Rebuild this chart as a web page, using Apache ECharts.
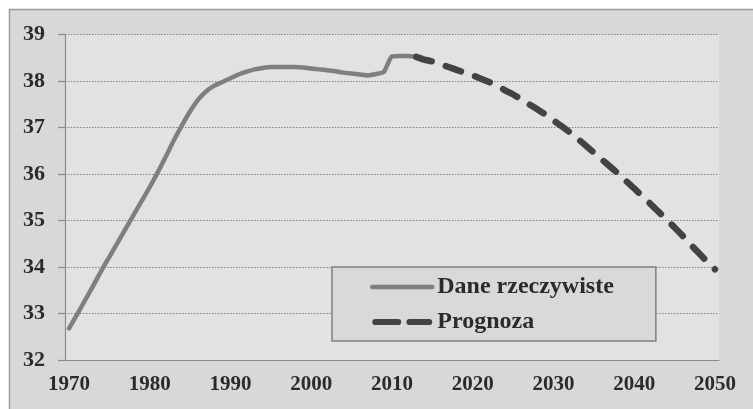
<!DOCTYPE html>
<html lang="pl">
<head>
<meta charset="UTF-8">
<title>Mediana wieku</title>
<script src="https://cdn.jsdelivr.net/npm/echarts@6/dist/echarts.min.js"></script>
<style>
  html, body { margin: 0; padding: 0; background: #fff; }
  #chart { width: 753px; height: 409px; }
</style>
</head>
<body>
<div id="chart"></div>
<script>
// lata 1970-2050 (kategorie osi X)
var years = [];
for (var y = 1970; y <= 2050; y++) years.push(String(y));

// dane rzeczywiste 1970-2013
var actualValues = [
  32.68, 32.98, 33.29, 33.60, 33.92, 34.22, 34.52, 34.82, 35.12, 35.42,
  35.72, 36.04, 36.38, 36.73, 37.05, 37.35, 37.60, 37.78, 37.90, 37.98,
  38.06, 38.14, 38.20, 38.25, 38.28, 38.30, 38.30, 38.30, 38.30, 38.29,
  38.27, 38.25, 38.23, 38.21, 38.18, 38.16, 38.14, 38.12, 38.15, 38.20,
  38.53, 38.54, 38.54, 38.52
];

// prognoza 2013-2050
var forecastValues = [
  38.52, 38.46, 38.42, 38.36, 38.30, 38.24, 38.18, 38.12, 38.05, 37.98,
  37.90, 37.80, 37.71, 37.61, 37.50, 37.39, 37.28, 37.15, 37.03, 36.90,
  36.76, 36.61, 36.46, 36.31, 36.16, 36.01, 35.85, 35.69, 35.52, 35.36,
  35.19, 35.02, 34.85, 34.67, 34.48, 34.30, 34.12, 33.95
];

var seriesNames = ['Dane rzeczywiste', 'Prognoza'];

var actualData = actualValues.concat(new Array(years.length - actualValues.length).fill(null));
var forecastData = new Array(years.length - forecastValues.length).fill(null).concat(forecastValues);

// ikona legendy dla prognozy: dwie kreski z zaokrąglonymi końcami
var dashIcon = 'path://M3,0H25A3,3 0 0 1 25,6H3A3,3 0 0 1 3,0Z M36,0H55A3,3 0 0 1 55,6H36A3,3 0 0 1 36,0Z';

var font = 'Liberation Serif, Times New Roman, serif';
var chart = echarts.init(document.getElementById('chart'), null, {renderer: 'canvas'});

chart.setOption({
  animation: false,
  backgroundColor: '#d7d8d7',
  graphic: [
    {type: 'rect', shape: {x: 0, y: 0, width: 753, height: 9}, style: {fill: '#fff'}, silent: true},
    {type: 'rect', shape: {x: 0, y: 0, width: 9, height: 409}, style: {fill: '#fff'}, silent: true},
    {type: 'line', shape: {x1: 9, y1: 9.5, x2: 753, y2: 9.5}, style: {stroke: '#9a9a9a', lineWidth: 1.5}, silent: true},
    {type: 'line', shape: {x1: 9.5, y1: 9, x2: 9.5, y2: 409}, style: {stroke: '#9a9a9a', lineWidth: 1.5}, silent: true}
  ],
  grid: {
    left: 65, right: 34, top: 34.5, bottom: 49,
    show: true, backgroundColor: '#e2e2e2', borderWidth: 0
  },
  legend: {
    orient: 'vertical',
    left: 332, top: 267,
    padding: [8, 42, 7, 38],
    itemGap: 11,
    itemWidth: 60,
    itemHeight: 6.5,
    backgroundColor: '#d9d9d9',
    borderColor: '#808080',
    borderWidth: 1.5,
    borderRadius: 0,
    textStyle: {fontFamily: font, fontWeight: 'bold', fontSize: 24, color: '#2b2b2b', lineHeight: 24},
    data: [
      {name: seriesNames[0], itemStyle: {opacity: 0}, lineStyle: {color: '#7f7f7f', width: 4.5, cap: 'round'}},
      {name: seriesNames[1], icon: dashIcon, itemStyle: {color: '#434343'}}
    ]
  },
  xAxis: {
    type: 'category',
    data: years,
    boundaryGap: true,
    axisLine: {lineStyle: {color: '#8a8a8a', width: 1.2}},
    axisTick: {interval: 4, length: 5, lineStyle: {color: '#8a8a8a', width: 1.2}},
    axisLabel: {interval: 9, margin: 14, fontFamily: font, fontWeight: 'bold', fontSize: 21, color: '#2b2b2b'},
    splitLine: {show: false}
  },
  yAxis: {
    type: 'value',
    min: 32, max: 39, interval: 1,
    axisLine: {show: true, lineStyle: {color: '#8a8a8a', width: 1.2}},
    axisTick: {show: true, length: 7, lineStyle: {color: '#8a8a8a', width: 1.2}},
    axisLabel: {margin: 20, fontFamily: font, fontWeight: 'bold', fontSize: 22, color: '#2b2b2b'},
    splitLine: {lineStyle: {color: '#808080', width: 1, type: [1.5, 1.5]}}
  },
  series: [
    {
      name: seriesNames[0],
      type: 'line',
      data: actualData,
      symbol: 'none',
      smooth: 0.2,
      lineStyle: {color: '#7f7f7f', width: 4.5, cap: 'round', join: 'round'},
      itemStyle: {color: '#7f7f7f'},
      z: 3
    },
    {
      name: seriesNames[1],
      type: 'line',
      data: forecastData,
      symbol: 'none',
      smooth: 0.2,
      lineStyle: {color: '#434343', width: 6.5, type: [16, 15], cap: 'round', join: 'round'},
      itemStyle: {color: '#434343'},
      z: 4
    }
  ]
});
</script>
</body>
</html>
